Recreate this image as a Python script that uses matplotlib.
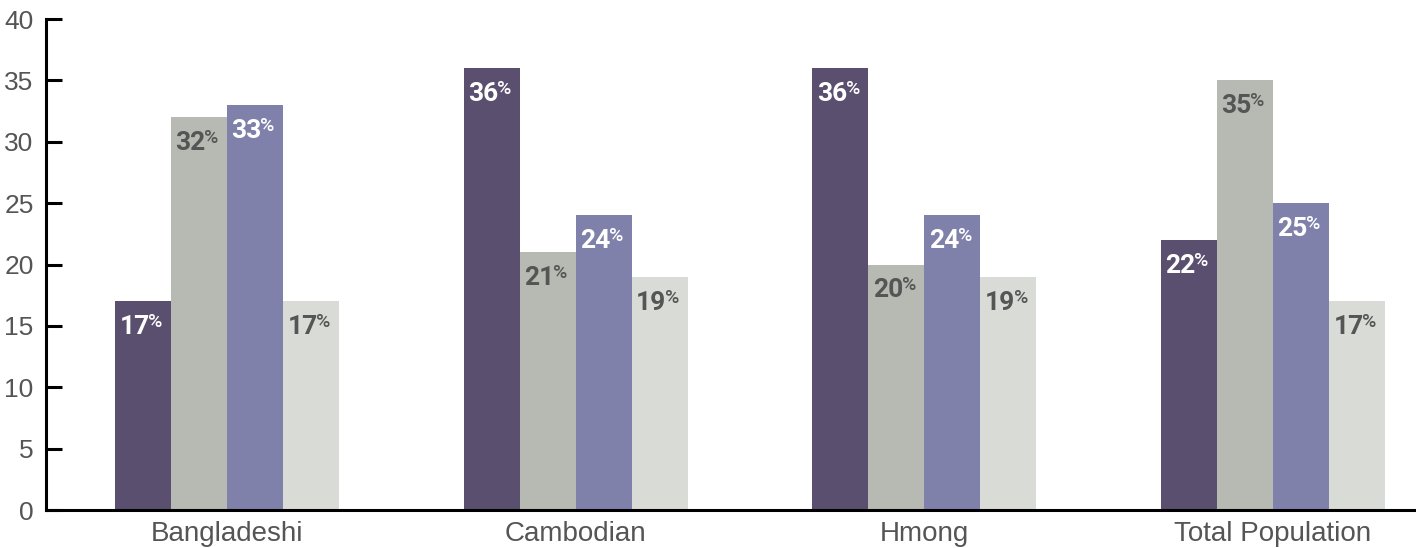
import numpy as np
import matplotlib.pyplot as plt

plt.rcParams['font.family'] = ['Liberation Sans', 'DejaVu Sans']

# data
groups = ['Bangladeshi', 'Cambodian', 'Hmong', 'Total Population']
s1 = [17, 36, 36, 22]
s2 = [32, 21, 20, 35]
s3 = [33, 24, 24, 25]
s4 = [17, 19, 19, 17]
series = [s1, s2, s3, s4]
colors = ['#5a4f6e', '#b6bab2', '#8081ab', '#d9dbd6']
label_colors = ['white', '#555555', 'white', '#555555']

fig = plt.figure(figsize=(14.16, 5.48), dpi=100)
ax = fig.add_axes([0.0325, 0.0693, 0.9675, 0.896])

x = np.arange(len(groups))
w = 0.1606
for i, vals in enumerate(series):
    xs = x + (i - 1.5) * w
    ax.bar(xs, vals, width=w, color=colors[i], linewidth=0)
    for xi, v in zip(xs, vals):
        t = ax.annotate(str(v), xy=(xi, v), xytext=(-6, -10),
                        textcoords='offset points', ha='center', va='top',
                        fontsize=19, fontweight='bold', color=label_colors[i],
                        family='Roboto')
        ax.annotate('%', xy=(1, 1), xycoords=t, xytext=(-1, 1.5),
                    textcoords='offset points', ha='left', va='top',
                    fontsize=14, fontweight='medium', color=label_colors[i],
                    family='Roboto')

ax.set_xlim(-0.519, 3.41)
ax.set_ylim(0, 40)
ax.set_yticks(range(0, 41, 5))
ax.set_xticks(x)
ax.set_xticklabels(groups)
ax.tick_params(axis='y', direction='in', length=11.5, width=2.2,
               labelsize=19, labelcolor='#555555', pad=9)
ax.tick_params(axis='x', length=0, labelsize=20, labelcolor='#555555', pad=8)
for side in ['top', 'right']:
    ax.spines[side].set_visible(False)
for side in ['left', 'bottom']:
    ax.spines[side].set_linewidth(2.2)

fig.savefig('out.png', dpi=100)
